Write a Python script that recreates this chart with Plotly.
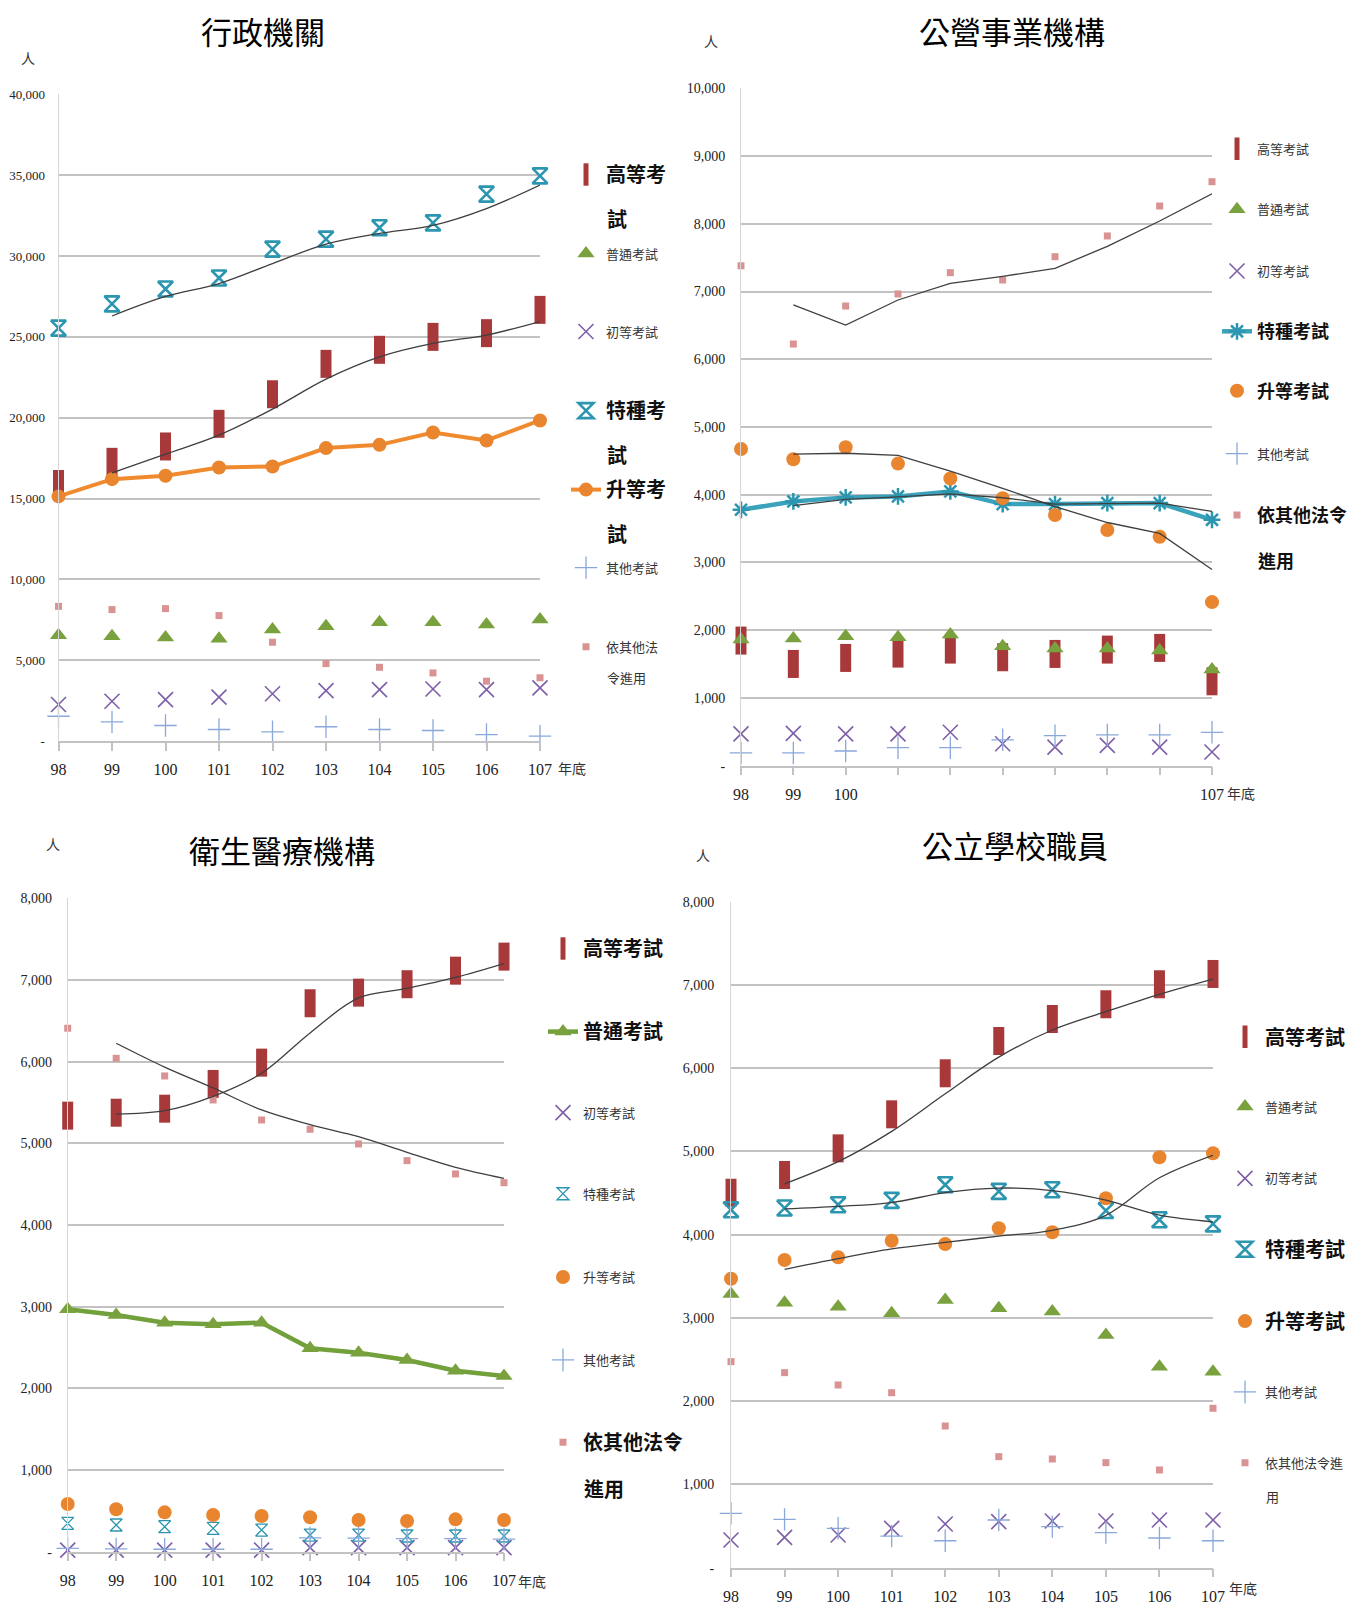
import numpy as np
import plotly.graph_objects as go

# The page body adds an 8px margin; lay the figure out so that it lands on the target pixels.
OFF = 8
W, H = 1358 - OFF, 1610 - OFF

years = [98, 99, 100, 101, 102, 103, 104, 105, 106, 107]
series_names = ["高等考試", "普通考試", "初等考試", "特種考試", "升等考試", "其他考試", "依其他法令進用"]

# 行政機關
admin_senior = [15900, 17270, 18220, 19620, 21450, 23330, 24200, 25000, 25230, 26670]
admin_general = [6540, 6480, 6400, 6330, 6890, 7100, 7340, 7340, 7200, 7510]
admin_elem = [2260, 2460, 2560, 2710, 2920, 3120, 3180, 3220, 3180, 3290]
admin_special = [25540, 27040, 27960, 28640, 30430, 31050, 31750, 32050, 33830, 34960]
admin_promo = [15130, 16200, 16410, 16920, 16980, 18120, 18320, 19080, 18590, 19830]
admin_other = [1530, 1180, 960, 710, 570, 880, 710, 650, 400, 300]
admin_law = [8330, 8130, 8190, 7760, 6110, 4790, 4560, 4210, 3700, 3910]

# 公營事業機構
soe_senior = [1847, 1502, 1591, 1655, 1714, 1601, 1650, 1714, 1739, 1246]
soe_general = [1862, 1877, 1911, 1897, 1936, 1764, 1730, 1730, 1700, 1419]
soe_elem = [469, 478, 469, 469, 493, 324, 275, 300, 275, 203]
soe_special = [3778, 3901, 3961, 3975, 4049, 3862, 3862, 3877, 3877, 3630]
soe_promo = [4675, 4525, 4700, 4460, 4240, 3950, 3700, 3480, 3380, 2415]
soe_other = [188, 188, 217, 266, 266, 382, 444, 454, 454, 493]
soe_law = [7380, 6225, 6786, 6964, 7278, 7170, 7514, 7820, 8262, 8621]

# 衛生醫療機構
health_senior = [5339, 5375, 5424, 5727, 5988, 6715, 6845, 6948, 7114, 7286]
health_general = [2968, 2898, 2804, 2784, 2804, 2490, 2437, 2347, 2216, 2151]
health_elem = [20, 20, 20, 20, 20, 50, 50, 50, 50, 50]
health_special = [347, 327, 306, 286, 265, 204, 204, 192, 192, 192]
health_promo = [584, 519, 482, 449, 437, 421, 388, 376, 396, 388]
health_other = [40, 35, 30, 30, 30, 170, 165, 160, 160, 155]
health_law = [6409, 6041, 5825, 5531, 5286, 5172, 4992, 4788, 4625, 4518]

# 公立學校職員
school_senior = [4504, 4717, 5037, 5446, 5939, 6327, 6591, 6768, 7008, 7132]
school_general = [3288, 3184, 3136, 3056, 3216, 3116, 3076, 2796, 2415, 2355]
school_elem = [333, 365, 393, 473, 525, 553, 561, 561, 573, 573]
school_special = [4300, 4320, 4360, 4412, 4600, 4520, 4540, 4290, 4180, 4130]
school_promo = [3471, 3696, 3729, 3928, 3888, 4077, 4029, 4437, 4930, 4978]
school_other = [653, 581, 473, 380, 324, 573, 493, 421, 357, 324]
school_law = [2475, 2343, 2195, 2102, 1702, 1334, 1306, 1262, 1174, 1915]

RED = "#A8393B"
GREEN = "#79A23F"
PURPLE = "#7E5FA8"
TEAL = "#2C95B0"
ORANGE = "#E8852E"
BLUE = "#8AA8DA"
PINK = "#D99393"
TREND = "#3F3F3F"
GRID = "#C2C2C2"

CJK = "Noto Sans CJK TC"
SERIF = "Liberation Serif"


def px(x):
    return (x - OFF) / W


def py(y):
    return 1 - (y - OFF) / H


def marker_style(kind, variant=None):
    if kind == 0:
        return dict(symbol="line-ns", size=20, color=RED, line=dict(color=RED, width=11))
    if kind == 1:
        return dict(symbol="triangle-up", size=15, color=GREEN, line=dict(width=0))
    if kind == 2:
        return dict(symbol="x-thin-open", size=15, color=PURPLE, line=dict(color=PURPLE, width=1.6))
    if kind == 3:
        if variant == "asterisk":
            return dict(symbol="asterisk-open", size=14, color=TEAL, line=dict(color=TEAL, width=2.5))
        if variant == "thin":
            return dict(symbol="hourglass-open", size=12, color=TEAL, line=dict(color=TEAL, width=1.3))
        return dict(symbol="hourglass-open", size=15, color=TEAL, line=dict(color=TEAL, width=2.6))
    if kind == 4:
        return dict(symbol="circle", size=14, color=ORANGE, line=dict(width=0))
    if kind == 5:
        return dict(symbol="cross-thin-open", size=16, color=BLUE, line=dict(color=BLUE, width=1.3))
    return dict(symbol="square", size=7, color=PINK, line=dict(width=0))


panels = [
    dict(title="行政機關", title_xy=(263, 30), unit_xy=(28, 58), nd_xy=(572, 768),
         x0=58.5, x1=540, ytop=94.4, ybot=741, ymax=40000, dtick=5000,
         labels=[str(y) for y in years], ystand=10, yfont=13,
         data=[admin_senior, admin_general, admin_elem, admin_special, admin_promo, admin_other, admin_law],
         lines={4: dict(color="#F08A2E", width=4)}, trend=[0, 3], smooth=True, variant=None,
         text_x=606,
         legend=[("高等考", "試", 174.5, 44, True), ("普通考試", None, 253.5, 0, False),
                 ("初等考試", None, 331.6, 0, False), ("特種考", "試", 410.6, 44, True),
                 ("升等考", "試", 489.6, 44, True), ("其他考試", None, 567.7, 0, False),
                 ("依其他法", "令進用", 646.7, 31, False)],
         big=20),
    dict(title="公營事業機構", title_xy=(1012, 30), unit_xy=(711, 41), nd_xy=(1241, 793),
         x0=741, x1=1212, ytop=88.3, ybot=765.7, ymax=10000, dtick=1000,
         labels=["98", "99", "100", "", "", "", "", "", "", "107"], ystand=12, yfont=14,
         data=[soe_senior, soe_general, soe_elem, soe_special, soe_promo, soe_other, soe_law],
         lines={3: dict(color="#3BA2BB", width=4.5)}, trend=[6, 4, 3], smooth=False, variant="asterisk",
         text_x=1257,
         legend=[("高等考試", None, 148.8, 0, False), ("普通考試", None, 209.4, 0, False),
                 ("初等考試", None, 271, 0, False), ("特種考試", None, 331.6, 0, True),
                 ("升等考試", None, 391.1, 0, True), ("其他考試", None, 453.7, 0, False),
                 ("依其他法令", "進用", 515.3, 45, True)],
         big=18),
    dict(title="衛生醫療機構", title_xy=(282, 850), unit_xy=(53, 844), nd_xy=(532, 1581),
         x0=67.7, x1=504, ytop=898.3, ybot=1551.7, ymax=8000, dtick=1000,
         labels=[str(y) for y in years], ystand=12, yfont=14,
         data=[health_senior, health_general, health_elem, health_special, health_promo, health_other, health_law],
         lines={1: dict(color="#72A03A", width=4.5)}, trend=[0, 6], smooth=True, variant="thin",
         text_x=583,
         legend=[("高等考試", None, 948.5, 0, True), ("普通考試", None, 1031.6, 0, True),
                 ("初等考試", None, 1112.7, 0, False), ("特種考試", None, 1193.8, 0, False),
                 ("升等考試", None, 1277, 0, False), ("其他考試", None, 1360, 0, False),
                 ("依其他法令", "進用", 1442.2, 46, True)],
         big=20),
    dict(title="公立學校職員", title_xy=(1015, 844), unit_xy=(703, 855), nd_xy=(1243, 1588),
         x0=731, x1=1213, ytop=901.7, ybot=1567.7, ymax=8000, dtick=1000,
         labels=[str(y) for y in years], ystand=13, yfont=14,
         data=[school_senior, school_general, school_elem, school_special, school_promo, school_other, school_law],
         lines={}, trend=[0, 3, 4], smooth=True, variant=None,
         text_x=1265,
         legend=[("高等考試", None, 1036.8, 0, True), ("普通考試", None, 1106.6, 0, False),
                 ("初等考試", None, 1178.4, 0, False), ("特種考試", None, 1249.3, 0, True),
                 ("升等考試", None, 1321.1, 0, True), ("其他考試", None, 1392, 0, False),
                 ("依其他法令進", "用", 1462.8, 34, False)],
         big=20),
]

fig = go.Figure()
layout = dict(width=W, height=H, margin=dict(l=0, r=0, t=0, b=0, pad=0, autoexpand=False),
              autosize=False, paper_bgcolor="white", plot_bgcolor="white", showlegend=True)
annotations = []
leg_n = 0

for pi, P in enumerate(panels):
    sfx = "" if pi == 0 else str(pi + 1)
    xa, ya = "x" + sfx, "y" + sfx
    tv = list(range(0, P["ymax"] + 1, P["dtick"]))
    tt = [" -" if v == 0 else f"{v:,}" for v in tv]
    layout["xaxis" + sfx] = dict(
        domain=[px(P["x0"]), px(P["x1"])], range=[98, 107], anchor=ya,
        tickvals=years, ticktext=P["labels"], ticks="outside", ticklen=8, tickwidth=1.5,
        tickcolor=GRID, showline=True, linecolor=GRID, linewidth=1.5, showgrid=False,
        zeroline=False, tickfont=dict(family=SERIF, size=16, color="#222"),
        ticklabelstandoff=5, fixedrange=True, automargin=False)
    layout["yaxis" + sfx] = dict(
        domain=[py(P["ybot"]), py(P["ytop"])], range=[0, P["ymax"]], anchor=xa,
        tickvals=tv, ticktext=tt, showgrid=True, gridcolor=GRID, gridwidth=1.5,
        showline=True, linecolor="#D6D6D6", linewidth=1, zeroline=False, ticks="",
        tickfont=dict(family=SERIF, size=P["yfont"], color="#222"), ticklabelstandoff=P["ystand"],
        fixedrange=True, automargin=False)

    for si, vals in enumerate(P["data"]):
        leg_n += 1
        lid = "legend" if leg_n == 1 else f"legend{leg_n}"
        line1, line2, ly, dy, big = P["legend"][si]
        name = f"<b>{line1}</b>" if big else line1
        mk = marker_style(si, variant=P["variant"] if si == 3 else None)
        if si in P["lines"]:
            mode = "lines+markers"
            line = P["lines"][si]
        else:
            mode = "markers"
            line = None
        tr = go.Scatter(x=years, y=vals, mode=mode, name=name, marker=mk, xaxis=xa, yaxis=ya,
                        legend=lid, cliponaxis=False, showlegend=True)
        if line:
            tr.line = line
        fig.add_trace(tr)
        fsize = P["big"] if big else 13
        fcol = "#111" if big else "#333"
        layout[lid] = dict(
            x=px(P["text_x"] - 40), y=py(ly), xanchor="left", yanchor="middle",
            bgcolor="rgba(0,0,0,0)", borderwidth=0, itemsizing="trace",
            font=dict(family=CJK, size=fsize, color=fcol))
        if line2:
            annotations.append(dict(
                text=f"<b>{line2}</b>" if big else line2, x=px(P["text_x"] - 1), y=py(ly + dy),
                xref="paper", yref="paper", xanchor="left", yanchor="middle", showarrow=False,
                font=dict(family=CJK, size=fsize, color=fcol)))

    # 2-period moving-average trend lines
    for si in P["trend"]:
        v = np.array(P["data"][si], dtype=float)
        ma = (v[1:] + v[:-1]) / 2
        fig.add_trace(go.Scatter(
            x=years[1:], y=ma, mode="lines", xaxis=xa, yaxis=ya, showlegend=False,
            hoverinfo="skip", cliponaxis=False,
            line=dict(color=TREND, width=1.3, shape="spline" if P["smooth"] else "linear",
                      smoothing=1.0)))

    annotations.append(dict(text=P["title"], x=px(P["title_xy"][0]), y=py(P["title_xy"][1]),
                            xref="paper", yref="paper", xanchor="center", yanchor="middle",
                            showarrow=False, font=dict(family=CJK, size=31, color="#000")))
    annotations.append(dict(text="人", x=px(P["unit_xy"][0]), y=py(P["unit_xy"][1]),
                            xref="paper", yref="paper", xanchor="center", yanchor="middle",
                            showarrow=False, font=dict(family=CJK, size=14, color="#333")))
    annotations.append(dict(text="年底", x=px(P["nd_xy"][0]), y=py(P["nd_xy"][1]),
                            xref="paper", yref="paper", xanchor="center", yanchor="middle",
                            showarrow=False, font=dict(family=CJK, size=14, color="#333")))

layout["annotations"] = annotations
fig.update_layout(**layout)
fig.write_html("out.html")
